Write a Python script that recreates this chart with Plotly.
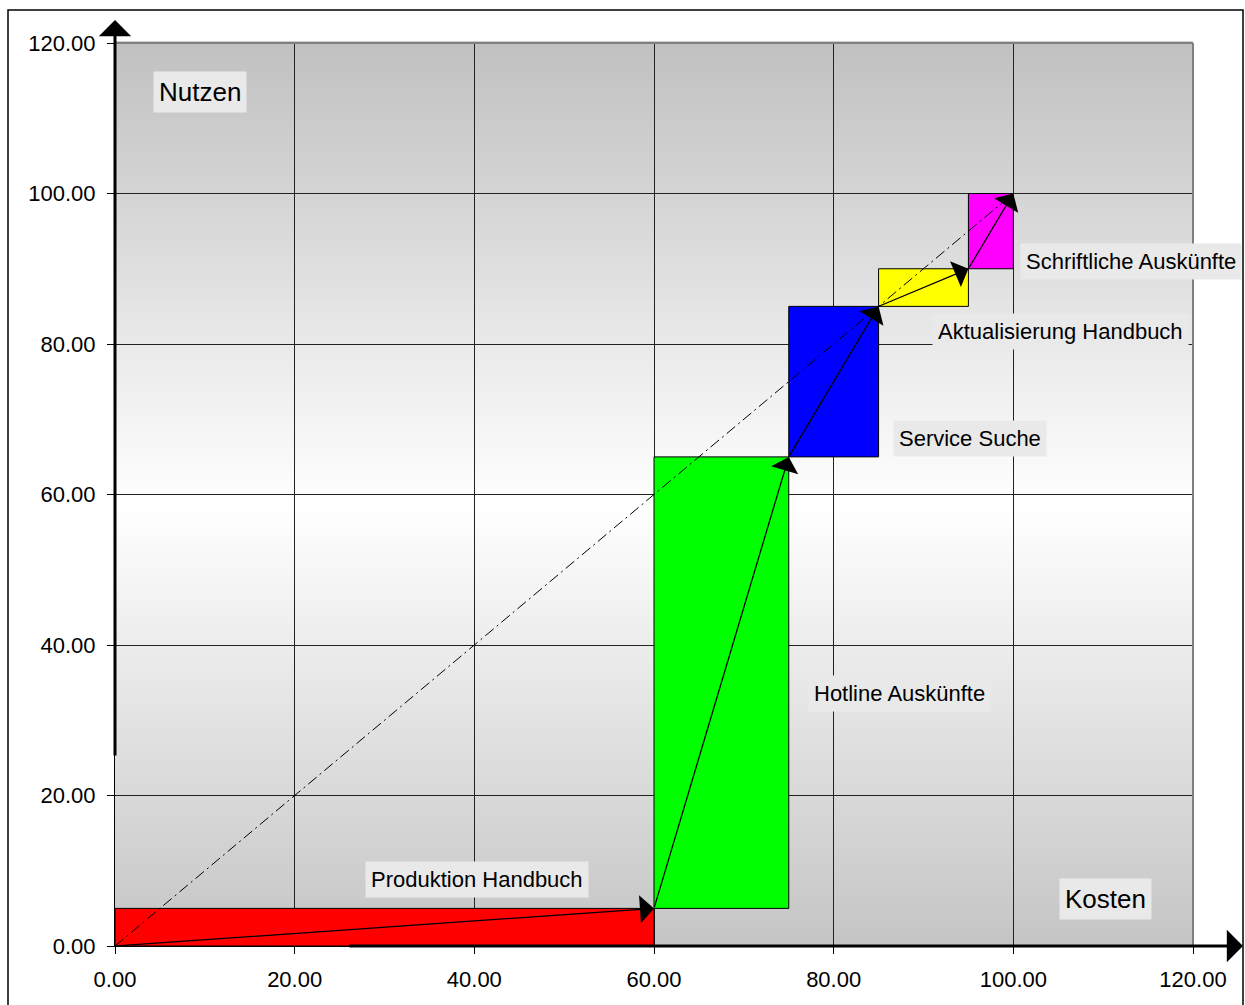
import plotly.graph_objects as go

# ---------------- data ----------------
steps = ["Produktion Handbuch", "Hotline Auskünfte", "Service Suche",
         "Aktualisierung Handbuch", "Schriftliche Auskünfte"]
kosten = [60, 15, 10, 10, 5]      # cost increment per step
nutzen = [5, 60, 20, 5, 10]       # benefit increment per step
x_ticks = [0, 20, 40, 60, 80, 100, 120]
y_ticks = [0, 20, 40, 60, 80, 100, 120]
x_title = "Kosten"
y_title = "Nutzen"

# ---------------- style ----------------
colors = ["#ff0000", "#00ff00", "#0000ff", "#ffff00", "#ff00ff"]
label_pos = [(40.3, 8.8), (87.3, 33.6), (95.2, 67.4), (105.3, 81.6), (113.1, 90.9)]
FONT = "Liberation Sans, Arial, sans-serif"
LABEL_BG = "#e9e9e9"

W, H = 1245, 1005
ML, MR, MT, MB = 115, 52, 43, 59
PW, PH = W - ML - MR, H - MT - MB

fig = go.Figure()

# cumulative positions
cx, cy = [0], [0]
for k, n in zip(kosten, nutzen):
    cx.append(cx[-1] + k)
    cy.append(cy[-1] + n)

# rectangles
for i, name in enumerate(steps):
    x0, x1, y0, y1 = cx[i], cx[i + 1], cy[i], cy[i + 1]
    fig.add_trace(go.Scatter(
        x=[x0, x1, x1, x0, x0], y=[y0, y0, y1, y1, y0],
        mode="lines", fill="toself", fillcolor=colors[i],
        line=dict(color="black", width=1), name=name,
        hoverinfo="skip", showlegend=False))

# dash-dot diagonal from origin to total
fig.add_trace(go.Scatter(
    x=[cx[0], cx[-1]], y=[cy[0], cy[-1]], mode="lines",
    line=dict(color="black", width=1, dash="11px,4px,2px,4px"),
    hoverinfo="skip", showlegend=False))

annotations = []
# arrows along the path
for i in range(len(steps)):
    annotations.append(dict(
        x=cx[i + 1], y=cy[i + 1], ax=cx[i], ay=cy[i],
        xref="x", yref="y", axref="x", ayref="y",
        text="", showarrow=True, arrowhead=1, arrowsize=3.6,
        arrowwidth=1.3, arrowcolor="black", standoff=0, startstandoff=0))

# step labels
for (lx, ly), name in zip(label_pos, steps):
    annotations.append(dict(
        x=lx, y=ly, xref="x", yref="y", text=name, showarrow=False,
        font=dict(family=FONT, size=22, color="black"),
        bgcolor=LABEL_BG, borderpad=5))

# axis titles
annotations.append(dict(x=9.5, y=113.5, xref="x", yref="y", text=y_title,
                        showarrow=False, font=dict(family=FONT, size=26, color="black"),
                        bgcolor=LABEL_BG, borderpad=5))
annotations.append(dict(x=110.3, y=6.2, xref="x", yref="y", text=x_title,
                        showarrow=False, font=dict(family=FONT, size=26, color="black"),
                        bgcolor=LABEL_BG, borderpad=5))

# axis arrows (decorative, pixel based)
annotations.append(dict(
    x=0, y=(H - MB - 20) / PH, xref="paper", yref="paper",
    ax=0, ay=757 - 20, axref="pixel", ayref="pixel",
    text="", showarrow=True, arrowhead=1, arrowsize=1.8, arrowwidth=3,
    arrowcolor="black", standoff=0))
annotations.append(dict(
    x=(1243 - ML) / PW, y=0, xref="paper", yref="paper",
    ax=-(1243 - 348), ay=0, axref="pixel", ayref="pixel",
    text="", showarrow=True, arrowhead=1, arrowsize=1.8, arrowwidth=3,
    arrowcolor="black", standoff=0))

shapes = []
# vertical gradient background (gray - white - gray)
N = 120
top_c, mid_c, bot_c, mid_pos = 192, 255, 196, 0.49
for j in range(N):
    f0, f1 = j / N, (j + 1) / N
    fm = (f0 + f1) / 2
    if fm < mid_pos:
        v = bot_c + (mid_c - bot_c) * (fm / mid_pos)
    else:
        v = mid_c + (top_c - mid_c) * ((fm - mid_pos) / (1 - mid_pos))
    v = int(round(v))
    shapes.append(dict(type="rect", xref="x domain", yref="y domain",
                       x0=0, x1=1, y0=f0, y1=f1 + 0.002, layer="below",
                       fillcolor=f"rgb({v},{v},{v})", line=dict(width=0)))
# gray top/right border of plot area
shapes.append(dict(type="line", xref="paper", yref="paper", x0=0, x1=1, y0=1, y1=1,
                   line=dict(color="#808080", width=2), layer="above"))
shapes.append(dict(type="line", xref="paper", yref="paper", x0=1, x1=1, y0=0, y1=1,
                   line=dict(color="#808080", width=2), layer="above"))
# outer frame
shapes.append(dict(type="rect", xref="paper", yref="paper",
                   x0=(8 - ML) / PW, x1=(1243 - ML) / PW,
                   y0=-0.2, y1=(H - MB - 10) / PH,
                   line=dict(color="black", width=1.5), fillcolor="rgba(0,0,0,0)",
                   layer="above"))

axis_common = dict(
    range=[0, 120], showgrid=True, gridcolor="#222222", gridwidth=1,
    zeroline=False, showline=True, linecolor="black", linewidth=1,
    ticks="outside", ticklen=7, tickcolor="black", tickwidth=1,
    tickformat=".2f", tickfont=dict(family=FONT, size=22, color="black"),
    fixedrange=True)

fig.update_layout(
    width=W, height=H, autosize=False,
    margin=dict(l=ML, r=MR, t=MT, b=MB, pad=0),
    paper_bgcolor="white", plot_bgcolor="rgba(0,0,0,0)",
    xaxis=dict(tickvals=x_ticks, ticklabelstandoff=7, **axis_common),
    yaxis=dict(tickvals=y_ticks, ticklabelstandoff=7, **axis_common),
    annotations=annotations, shapes=shapes, showlegend=False)

fig.write_html("out.html")
